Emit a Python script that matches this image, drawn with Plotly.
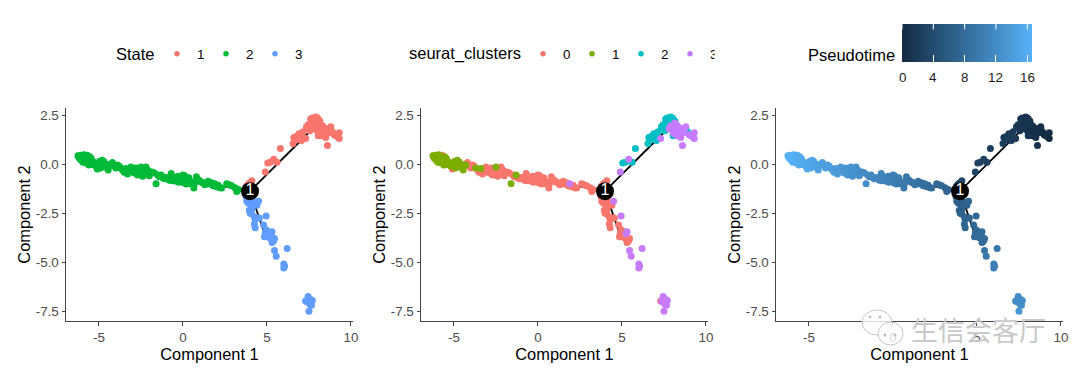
import plotly.graph_objects as go

# ---------- data ----------
left_x = [-6.25,-6.2,-6.15,-6.1,-6.05,-6.0,-5.95,-5.9,-5.85,-5.8,
          -5.75,-5.7,-5.65,-5.6,-5.55,-5.5,-5.45,-5.4,-5.3,-5.2,
          -5.1,-5.05,-5.0,-4.95,-4.9,-4.85,-4.8,-4.75,-4.7,-4.6,
          -4.5,-4.45,-4.3,-4.2,-4.1,-4.0,-3.9,-3.8,-3.7,-3.6,
          -3.5,-3.4,-3.3,-3.2,-3.1,-3.0,-2.9,-2.8,-2.7,-2.6,
          -2.5,-2.45,-2.4,-2.3,-2.25,-2.2,-2.1,-2.0,-1.9,-1.8,
          -1.7,-1.6,-1.5,-1.4,-1.3,-1.2,-1.1,-1.0,-0.9,-0.8,
          -0.7,-0.65,-0.6,-0.5,-0.4,-0.3,-0.25,-0.2,-0.1,0.0,
          0.05,0.1,0.15,0.2,0.3,0.35,0.4,0.5,0.6,0.65,
          0.7,0.8,0.9,1.0,1.1,1.2,1.3,1.4,1.5,1.6,
          1.7,1.8,1.9,2.0,2.1,2.2,2.3,2.6,2.75,2.9,
          3.1,3.2,3.3]
left_y = [0.42,0.35,0.28,0.45,0.2,0.38,0.1,0.48,0.25,0.32,
          0.05,0.45,0.2,-0.05,0.38,0.12,0.28,-0.02,0.1,-0.1,
          -0.25,0.05,-0.1,0.15,-0.2,0.0,0.2,-0.05,0.12,-0.15,
          -0.02,-0.3,-0.05,0.08,-0.1,-0.2,-0.05,-0.1,-0.2,-0.3,
          -0.42,-0.22,-0.5,-0.3,-0.15,-0.25,-0.45,-0.2,-0.55,-0.32,
          -0.15,-0.45,-0.62,-0.25,-0.5,-0.15,-0.3,-0.6,-0.4,-0.42,
          -0.45,-1.0,-0.55,-0.65,-0.55,-0.7,-0.75,-0.68,-0.72,-0.82,
          -0.48,-0.85,-0.65,-0.72,-0.88,-0.62,-0.92,-0.7,-0.78,-0.55,
          -0.95,-0.6,-0.82,-1.02,-0.88,-0.7,-1.0,-0.9,-0.95,-1.22,
          -0.98,-0.65,-0.78,-0.85,-0.92,-0.95,-1.05,-1.0,-0.88,-1.02,
          -0.95,-1.1,-1.0,-1.15,-1.08,-1.2,-1.22,-1.0,-1.05,-1.1,
          -1.2,-1.4,-1.3]
left_cluster = [1,1,1,1,1,1,1,1,1,1,
                1,0,1,1,1,1,1,1,1,1,
                0,1,1,1,1,1,1,1,1,1,
                1,1,1,0,0,0,0,0,1,0,
                0,1,0,0,0,0,0,0,0,0,
                1,0,0,0,0,0,0,0,0,0,
                0,1,0,0,1,0,0,0,0,0,
                0,0,0,0,0,0,0,0,0,0,
                0,0,0,0,0,0,0,0,0,0,
                0,0,0,0,0,0,0,0,0,0,
                0,0,3,0,0,0,0,0,0,0,
                0,0,0]
left_time = [16.6,16.6,16.5,16.5,16.4,16.4,16.3,16.3,16.2,16.2,
             16.1,16.1,16.0,16.0,15.9,15.9,15.8,15.8,15.7,15.6,
             15.5,15.5,15.4,15.4,15.3,15.3,15.2,15.2,15.1,15.0,
             14.9,14.9,14.7,14.6,14.5,14.4,14.3,14.2,14.1,14.0,
             13.9,13.8,13.7,13.6,13.5,13.4,13.3,13.2,13.1,13.0,
             12.9,12.9,12.8,12.7,12.7,12.6,12.5,12.4,12.3,12.2,
             12.1,12.4,11.9,11.8,11.7,11.6,11.5,11.4,11.3,11.2,
             11.1,11.1,11.0,10.9,10.8,10.7,10.7,10.6,10.5,10.4,
             10.4,10.3,10.3,10.2,10.1,10.1,10.0,9.9,9.8,9.8,
             9.7,9.6,9.5,9.4,9.3,9.2,9.1,9.0,8.9,8.8,
             8.7,8.6,8.5,8.4,8.3,8.2,8.1,7.8,7.6,7.5,
             7.3,7.2,7.1]

right_x = [3.8,3.9,4.0,4.1,4.9,5.05,5.2,5.4,5.6,5.8,
           6.55,6.6,6.7,6.8,6.9,7.0,7.05,7.15,7.3,7.35,
           7.45,7.5,7.55,7.6,7.6,7.65,7.7,7.7,7.75,7.8,
           7.8,7.85,7.9,7.9,7.95,8.0,8.0,8.05,8.1,8.1,
           8.15,8.2,8.2,8.25,8.3,8.3,8.35,8.4,8.45,8.5,
           8.55,8.6,8.6,8.7,8.8,8.9,9.0,9.1,9.2,9.3,
           9.3,8.05,7.9,8.15,8.0]
right_y = [-1.1,-1.0,-0.95,-0.85,-0.4,0.05,0.1,0.25,0.1,0.8,
           1.05,1.35,1.4,1.25,1.55,1.45,1.2,1.65,1.3,1.9,
           2.0,1.85,1.7,2.05,2.3,2.15,1.95,2.35,2.1,2.3,
           1.8,2.2,2.4,1.95,2.25,2.1,1.7,2.3,1.95,1.55,
           2.1,1.85,1.6,1.75,1.95,1.45,1.65,1.85,1.55,1.35,
           1.8,1.7,0.95,1.6,1.9,1.65,1.5,1.45,1.4,1.6,
           1.3,1.45,2.2,2.2,2.35]
right_cluster = [0,0,0,0,3,2,2,3,2,2,
                 2,2,2,2,2,2,2,2,3,2,
                 2,2,2,2,2,2,2,2,2,2,
                 3,2,2,3,2,2,3,2,3,3,
                 3,3,3,3,3,3,3,3,3,3,
                 3,3,3,3,3,2,3,3,3,3,
                 3,2,2,2,2]
right_time = [3.7,3.6,3.5,3.4,3.1,2.9,2.8,2.7,2.6,2.5,
              2.2,2.1,2.1,2.0,2.0,1.9,1.9,1.8,1.7,1.7,
              1.6,1.5,1.5,1.4,1.4,1.4,1.3,1.3,1.3,1.2,
              1.2,1.2,1.1,1.1,1.1,1.0,1.0,1.0,0.9,0.9,
              0.9,0.8,0.8,0.8,0.7,0.7,0.7,0.6,0.6,0.6,
              0.5,0.5,0.6,0.4,0.4,0.3,0.3,0.2,0.2,0.1,
              0.1,1.0,1.1,0.9,1.0]

down_x = [3.75,3.8,3.85,3.9,3.95,4.0,4.05,4.1,4.15,4.2,
          4.25,4.3,4.4,4.5,4.0,4.1,4.3,4.45,4.55,4.25,
          4.3,4.95,4.8,4.9,4.85,4.95,5.05,5.1,5.15,5.25,
          5.3,5.35,5.4,5.3,5.4,5.45,5.45,5.55,6.2,6.0,
          6.05,6.0,7.45,7.5,7.55,7.6,7.65,7.7,7.3,7.35,7.5]
down_y = [-1.65,-1.9,-1.75,-2.0,-2.35,-1.85,-2.05,-2.3,-1.95,-2.1,
          -2.7,-1.95,-2.1,-1.9,-2.5,-2.55,-2.8,-2.75,-2.75,-3.05,
          -3.25,-2.65,-3.1,-3.5,-3.7,-3.35,-3.6,-3.45,-3.75,-3.55,
          -3.45,-3.95,-3.9,-4.0,-3.85,-3.8,-4.4,-4.7,-4.3,-5.1,
          -5.2,-5.3,-6.75,-6.95,-7.15,-6.9,-7.2,-6.95,-6.98,-7.0,-7.5]
down_cluster = [0,0,0,0,0,0,0,0,0,0,
                0,0,0,3,0,0,0,0,0,0,
                0,3,0,0,0,0,0,0,0,3,
                3,0,0,0,0,0,3,3,3,3,
                3,3,3,3,3,3,3,3,0,3,3]
down_time = [6.3,6.4,6.4,6.5,6.6,6.4,6.5,6.6,6.5,6.6,
             6.9,6.5,6.7,7.1,6.7,6.8,7.0,7.0,7.2,7.2,
             7.3,7.6,7.4,7.5,7.6,7.6,7.7,7.7,7.8,7.9,
             7.9,8.0,8.0,8.1,8.0,8.0,9.2,9.4,9.6,10.2,
             10.3,10.4,12.0,12.2,12.3,12.1,12.4,12.2,12.0,12.1,13.1]

trunk_x = [3.99, 7.6]
trunk_y = [-1.38, 1.7]
left_path_x = [3.99, 2.5, 0.0, -3.0, -6.0]
left_path_y = [-1.38, -1.15, -0.78, -0.3, 0.3]
down_path_x = [3.99, 4.8]
down_path_y = [-1.38, -3.4]
node_x = [3.99]
node_y = [-1.38]
node_label = ["1"]

state_names = ["1", "2", "3"]
cluster_names = ["0", "1", "2", "3"]
state_colors = ["#F8766D", "#00BA38", "#619CFF"]
cluster_colors = ["#F8766D", "#7CAE00", "#00BFC4", "#C77CFF"]
x_ticks = [-5, 0, 5, 10]
x_tick_labels = ["-5", "0", "5", "10"]
y_ticks = [-7.5, -5, -2.5, 0, 2.5]
y_tick_labels = ["-7.5", "-5.0", "-2.5", "0.0", "2.5"]
time_ticks = [0, 4, 8, 12, 16]
time_max = 16.6

# ---------- layout helpers ----------
W, H = 1080, 378
FONT = "Liberation Sans"
px = lambda v: v / W
py = lambda v: 1 - v / H

all_x = right_x + left_x + down_x
all_y = right_y + left_y + down_y
all_state = ["1"] * len(right_x) + ["2"] * len(left_x) + ["3"] * len(down_x)
all_cluster = right_cluster + left_cluster + down_cluster
all_time = right_time + left_time + down_time

panels = [(66, 353), (421, 708), (776, 1063)]
BAR_L, BAR_LEN = 902, 130
SZ = 7
fig = go.Figure()


def backbone(i):
    xa, ya = ("x", "y") if i == 1 else (f"x{i}", f"y{i}")
    for xs, ys in ((trunk_x, trunk_y), (left_path_x, left_path_y), (down_path_x, down_path_y)):
        fig.add_trace(go.Scatter(x=xs, y=ys, mode="lines", xaxis=xa, yaxis=ya, showlegend=False,
                                 hoverinfo="skip", line=dict(color="black", width=1.8)))


def node(i):
    xa, ya = ("x", "y") if i == 1 else (f"x{i}", f"y{i}")
    fig.add_trace(go.Scatter(x=node_x, y=node_y, text=node_label, mode="markers+text", xaxis=xa, yaxis=ya,
                             showlegend=False, textposition="middle center",
                             textfont=dict(color="white", size=16, family=FONT),
                             marker=dict(color="black", size=18)))


def legend_key(name, col, legend, xa, ya):
    # empty trace: only supplies the smaller legend dot
    fig.add_trace(go.Scatter(x=[None], y=[None], mode="markers", name=name, legend=legend, xaxis=xa, yaxis=ya,
                             marker=dict(color=col, size=5.5)))


backbone(1)
for name, col in zip(state_names, state_colors):
    idx = [k for k, s in enumerate(all_state) if s == name]
    fig.add_trace(go.Scatter(x=[all_x[k] for k in idx], y=[all_y[k] for k in idx], mode="markers",
                             showlegend=False, marker=dict(color=col, size=SZ)))
    legend_key(name, col, "legend", "x", "y")
node(1)

backbone(2)
for name, col in zip(cluster_names, cluster_colors):
    idx = [k for k, c in enumerate(all_cluster) if str(c) == name]
    fig.add_trace(go.Scatter(x=[all_x[k] for k in idx], y=[all_y[k] for k in idx], mode="markers",
                             xaxis="x2", yaxis="y2", showlegend=False,
                             marker=dict(color=col, size=SZ)))
    legend_key(name, col, "legend2", "x2", "y2")
node(2)

backbone(3)
fig.add_trace(go.Scatter(
    x=all_x, y=all_y, mode="markers", xaxis="x3", yaxis="y3", showlegend=False,
    marker=dict(size=SZ, color=all_time, cmin=0, cmax=time_max,
                colorscale=[[0, "#132B43"], [1, "#56B1F7"]],
                colorbar=dict(orientation="h", xanchor="left", x=px(BAR_L), yanchor="top", y=py(24),
                              lenmode="pixels", len=BAR_LEN, thickness=38, xpad=0, ypad=0,
                              outlinewidth=0, ticks="inside", ticklen=7, tickcolor="white", tickwidth=1,
                              tickvals=time_ticks, showticklabels=False))))
node(3)

axis_style = dict(showgrid=False, zeroline=False, showline=True, linecolor="#444444", linewidth=1,
                  ticks="outside", ticklen=3.5, tickcolor="#444444", tickwidth=1,
                  tickfont=dict(size=13.4, color="#4d4d4d", family=FONT), fixedrange=True)
title_font = dict(size=16.4, color="black", family=FONT)
layout = dict(width=W, height=H, autosize=False,
              margin=dict(l=0, r=0, t=0, b=0, autoexpand=False),
              paper_bgcolor="white", plot_bgcolor="white", font=dict(family=FONT))
for i, (a, b) in enumerate(panels, 1):
    sfx = "" if i == 1 else str(i)
    layout[f"xaxis{sfx}"] = dict(axis_style, domain=[px(a), px(b)], range=[-6.96, 10.12], anchor=f"y{sfx}",
                                 tickvals=x_ticks, ticktext=x_tick_labels,
                                 title=dict(text="Component 1", font=title_font, standoff=3))
    layout[f"yaxis{sfx}"] = dict(axis_style, domain=[py(321), py(108)], range=[-8.0, 2.86], anchor=f"x{sfx}",
                                 tickvals=y_ticks, ticktext=y_tick_labels,
                                 title=dict(text="Component 2", font=title_font, standoff=1))


def legend_at(x):
    return dict(orientation="h", x=px(x), y=py(54), xanchor="left", yanchor="middle",
                font=dict(size=13.4, color="black", family=FONT), entrywidth=4, entrywidthmode="pixels",
                tracegroupgap=0, bgcolor="rgba(0,0,0,0)", itemclick=False)


layout["legend"] = legend_at(157)
layout["legend2"] = legend_at(523)

# watermark icon
icon_line = dict(color="rgba(190,190,190,0.9)", width=1)
shapes = []
for x0, y0, x1, y1 in ((862, 310, 892, 335), (878, 322, 903, 345)):
    shapes.append(dict(type="circle", xref="paper", yref="paper", x0=px(x0), x1=px(x1), y0=py(y1), y1=py(y0),
                       line=icon_line, fillcolor="rgba(255,255,255,0.8)", layer="above"))
for cx, cy in ((870, 317), (880, 317), (885, 335), (895, 335)):
    shapes.append(dict(type="circle", xref="paper", yref="paper", x0=px(cx - 1.5), x1=px(cx + 1.5),
                       y0=py(cy + 1.5), y1=py(cy - 1.5), line=dict(width=0),
                       fillcolor="rgba(185,185,185,0.9)", layer="above"))
layout["shapes"] = shapes

title_style = dict(xref="paper", yref="paper", xanchor="left", yanchor="middle", showarrow=False,
                   font=dict(size=16.5, color="black", family=FONT))
annotations = [
    dict(title_style, text="State", x=px(114), y=py(54)),
    dict(title_style, text="seurat_clusters", x=px(407), y=py(54)),
    dict(title_style, text="Pseudotime", x=px(806), y=py(55)),
    dict(text="生信会客厅", xref="paper", yref="paper", x=px(978), y=py(329), xanchor="center", yanchor="middle",
         showarrow=False, font=dict(size=27, color="#c9c9c9", family="Noto Sans CJK SC")),
    dict(text=" ", xref="paper", yref="paper", x=px(714), y=py(54), xanchor="left", yanchor="middle",
         showarrow=False, bgcolor="white", width=24, height=24, font=dict(size=12)),
]
for t in time_ticks:
    tx = px(BAR_L + t / time_max * BAR_LEN)
    annotations.append(dict(text=str(t), xref="paper", yref="paper", x=tx, y=py(77),
                            xanchor="center", yanchor="middle", showarrow=False,
                            font=dict(size=13.4, color="#1a1a1a", family=FONT)))
    annotations.append(dict(text="", xref="paper", yref="paper", x=tx, y=py(24), ax=0, ay=7, showarrow=True,
                            arrowhead=0, arrowwidth=1, arrowcolor="white", standoff=0))
layout["annotations"] = annotations
fig.update_layout(**layout)
fig.write_html("out.html", config=dict(displayModeBar=False), post_script="document.body.style.margin='0';")
